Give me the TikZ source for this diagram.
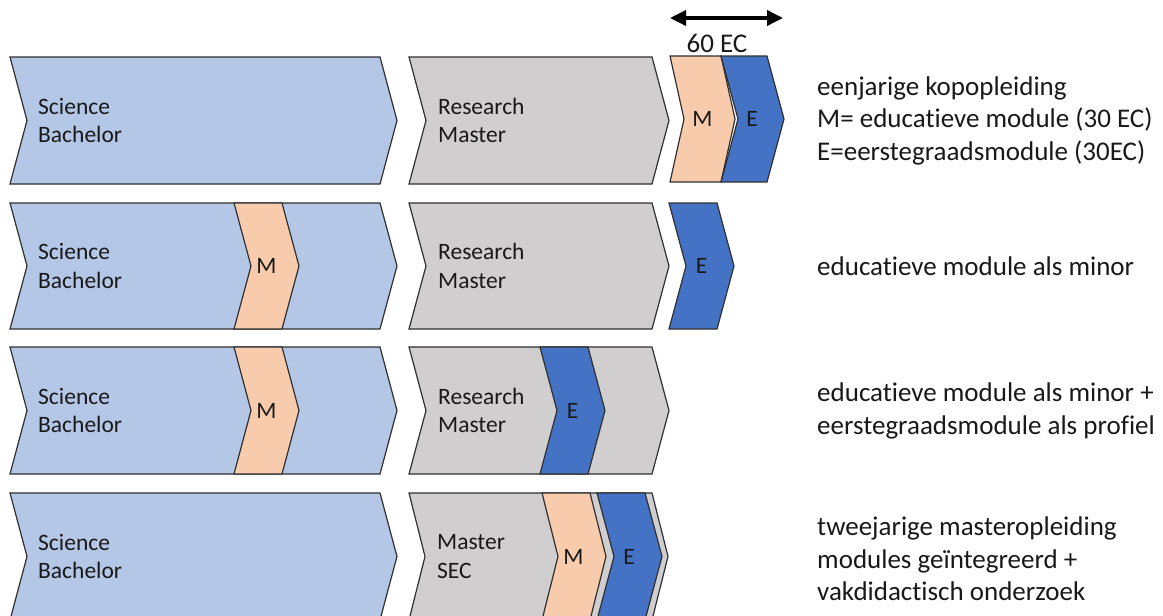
\documentclass[tikz,border=0pt]{standalone}
\usepackage{fontspec}
\setmainfont{Carlito}[Ligatures={NoCommon}]
\usetikzlibrary{arrows.meta}
\definecolor{bach}{HTML}{B4C7E7}
\definecolor{mast}{HTML}{D0CECE}
\definecolor{modM}{HTML}{F8CBAD}
\definecolor{modE}{HTML}{4472C4}
\definecolor{edgec}{HTML}{303030}
% fill, left, right, top, bottom, depth
\newcommand{\chev}[6]{%
  \filldraw[chevbox,fill=#1] (#2,#4) -- (#3,#4) -- ({#3+#6},{(#4+#5)/2}) -- (#3,#5) -- (#2,#5) -- ({#2+#6},{(#4+#5)/2}) -- cycle;}
\tikzset{
  chevbox/.style={draw=edgec, line width=1.2pt, line join=miter},
  lbl/.style={font=\fontsize{23.5}{28.7}\selectfont, inner sep=0pt, align=left, text=black!90},
  desc/.style={font=\fontsize{27}{32.5}\selectfont, inner sep=0pt, align=left, anchor=west, text=black!90},
  span/.style={line width=3.5pt, {Triangle[length=16pt,width=15pt]}-{Triangle[length=16pt,width=15pt]}}
}
\begin{document}
\begin{tikzpicture}[x=1pt,y=-1pt]
\useasboundingbox (0,0) rectangle (1163,616);
\clip (0,0) rectangle (1163,616);
\fill[white] (0,0) rectangle (1163,616);
% ---------- row 1 ----------
\chev{bach}{10}{380}{57}{184}{17}
\chev{mast}{409}{652}{57}{184}{17}
\chev{modM}{670}{721}{56}{182}{14}
\chev{modE}{721}{767}{56}{182}{17}
\node[lbl, anchor=west] (b1) at (38,120.5) {Science\\Bachelor};
\node[lbl, anchor=west] (r1) at (438,120.5) {Research\\Master};
\node[lbl] (m1) at (702.5,119) {M};
\node[lbl] (e1) at (752,119) {E};
\coordinate (al) at (670,18);
\coordinate (ar) at (783,18);
\draw[span] (al) -- (ar);
\node[desc, anchor=base] (ec) at (717,52) {60 EC};
\node[desc] (d1) at (817,120.5) {eenjarige kopopleiding\\M= educatieve module (30 EC)\\E=eerstegraadsmodule (30EC)};
% ---------- row 2 ----------
\chev{bach}{10}{380}{203}{329}{17}
\chev{modM}{234}{282}{203}{329}{17}
\chev{mast}{409}{652}{203}{329}{17}
\chev{modE}{669}{717}{203}{329}{17}
\node[lbl, anchor=west] (b2) at (38,266) {Science\\Bachelor};
\node[lbl] (m2) at (266.5,266) {M};
\node[lbl, anchor=west] (r2) at (438,266) {Research\\Master};
\node[lbl] (e2) at (701.5,266) {E};
\node[desc] (d2) at (817,266) {educatieve module als minor};
% ---------- row 3 ----------
\chev{bach}{10}{380}{347}{474}{17}
\chev{modM}{234}{282}{347}{474}{17}
\chev{mast}{409}{652}{347}{474}{17}
\chev{modE}{540}{588}{347}{474}{17}
\node[lbl, anchor=west] (b3) at (38,410.5) {Science\\Bachelor};
\node[lbl] (m3) at (266.5,410.5) {M};
\node[lbl, anchor=west] (r3) at (438,410.5) {Research\\Master};
\node[lbl] (e3) at (572.5,410.5) {E};
\node[desc] (d3) at (817,411) {educatieve module als minor +\\eerstegraadsmodule als profiel};
% ---------- row 4 ----------
\chev{bach}{10}{380}{493}{620}{17}
\chev{mast}{409}{652}{493}{620}{16}
\chev{modM}{542}{590}{493}{620}{16}
\chev{modE}{597}{645}{493}{620}{17}
\node[lbl, anchor=west] (b4) at (38,556.5) {Science\\Bachelor};
\node[lbl, anchor=west] (r4) at (437,556.5) {Master\\SEC};
\node[lbl] (m4) at (573.5,556.5) {M};
\node[lbl] (e4) at (629,556.5) {E};
\node[desc] (d4) at (817,559) {tweejarige masteropleiding\\modules geïntegreerd +\\vakdidactisch onderzoek};
\end{tikzpicture}
\end{document}
